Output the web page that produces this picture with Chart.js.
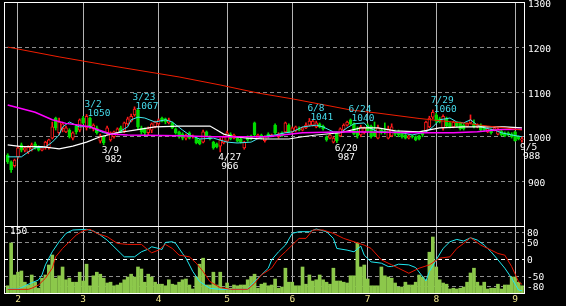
<!DOCTYPE html>
<html>
<head>
<meta charset="utf-8">
<script src="https://cdn.jsdelivr.net/npm/chart.js@4.4.0/dist/chart.umd.min.js"></script>
<style>
  html, body { margin: 0; padding: 0; background: #000; }
  body { width: 566px; height: 306px; position: relative; overflow: hidden; }
  #priceChart { position: absolute; left: 0; top: 0; }
  #oscChart { position: absolute; left: 0; top: 226px; }
</style>
</head>
<body>
<canvas id="priceChart" width="566" height="228"></canvas>
<canvas id="oscChart" width="566" height="80"></canvas>
<script>
// Daily candles, index 0 = first session on the chart
const opens = [959,944,935,955,982,970,966,972,984,977,970,975,975,997,1042,1009,1018,1011,1015,997,
  1024,1015,1042,1020,1042,1018,1020,990,1000,1009,993,1000,1009,1020,1013,1029,1035,1049,1060,1020,
  1018,1009,1015,1022,1029,1042,1040,1031,1031,1018,1011,1006,997,1009,1000,997,993,988,1011,1000,
  988,984,979,986,990,1006,997,997,995,975,1000,1002,1031,997,1004,991,1006,1002,1026,1000,
  1009,1011,1026,1011,1013,1018,1015,1020,1026,1026,1022,1029,1024,1000,997,988,1009,1002,1015,1026,
  1038,1029,1011,1004,1009,1026,1024,1011,997,1015,1013,997,1002,1013,1013,1009,1004,997,1002,1000,
  1002,1011,1011,1022,1044,1049,1040,1020,1040,1031,1022,1031,1031,1026,1024,1031,1029,1022,1026,1020,
  1011,1015,1015,1006,1013,1009,1009,1006,1011,1000,993];
const highs = [962,946,950,978,986,978,980,986,988,980,978,990,995,1033,1044,1042,1033,1024,1018,1011,
  1026,1040,1046,1050,1044,1029,1024,1006,1002,1024,1011,1013,1020,1024,1033,1044,1051,1067,1062,1024,
  1020,1022,1031,1035,1040,1044,1042,1042,1033,1020,1013,1009,1006,1011,1004,1000,995,1015,1013,1002,
  990,986,997,1002,1013,1009,1006,1000,997,990,1002,1004,1033,1006,1006,1002,1009,1006,1029,1009,
  1011,1033,1029,1022,1024,1022,1022,1031,1041,1038,1035,1031,1026,1002,1006,1000,1011,1020,1029,1035,
  1040,1031,1022,1026,1022,1029,1026,1033,1026,1018,1031,1024,1029,1015,1015,1011,1006,1004,1004,1002,
  1004,1013,1035,1046,1060,1053,1044,1049,1044,1033,1035,1033,1033,1029,1031,1049,1038,1029,1029,1022,
  1020,1018,1022,1020,1015,1011,1011,1009,1013,1002,1000];
const lows = [940,920,932,952,966,966,962,968,972,968,968,972,972,995,1015,1004,1011,1009,997,993,
  1006,1011,1029,1015,1018,1013,1006,986,982,1004,990,997,1004,1009,1009,1026,1033,1046,1018,1006,
  1004,1004,1009,1020,1026,1033,1029,1029,1018,1006,997,993,993,995,997,984,982,986,1000,993,
  972,975,966,984,988,993,995,988,986,972,990,993,1000,995,995,988,997,1000,1006,997,
  1000,1009,1009,1009,1011,1013,1013,1018,1024,1024,1020,1020,1015,990,995,986,987,1000,1013,1024,
  1026,1004,997,1000,1006,1011,997,1000,995,1006,1006,995,1000,1002,1000,997,995,995,997,991,
  993,1000,1009,1020,1040,1031,1031,1015,1022,1020,1020,1022,1015,1015,1022,1029,1020,1020,1013,1013,
  1009,1006,1013,1004,1002,1000,1002,997,990,993,988];
const closes = [944,926,948,975,970,975,977,982,975,970,975,988,993,1022,1020,1033,1029,1020,1000,1009,
  1011,1038,1031,1046,1022,1026,1009,1002,986,1020,1009,1011,1018,1011,1031,1040,1046,1062,1022,1011,
  1009,1018,1029,1033,1038,1035,1033,1038,1020,1009,1000,997,1004,997,1002,986,984,1011,1002,995,
  975,977,993,1000,1009,995,1004,990,988,988,993,995,1004,1004,997,1000,1000,1004,1009,1006,
  1002,1031,1011,1020,1022,1015,1020,1026,1035,1035,1031,1022,1018,993,1004,997,991,1018,1026,1033,
  1029,1006,1002,1022,1020,1013,1000,1002,1020,1009,1011,1018,1022,1006,1004,1000,997,1002,1000,993,
  995,1004,1033,1042,1055,1035,1033,1046,1024,1022,1033,1024,1018,1018,1029,1038,1022,1026,1015,1015,
  1018,1009,1020,1018,1004,1002,1004,1000,991,995,995];
const volumes = [18,125,45,52,55,27,20,45,27,12,37,45,70,95,37,43,65,33,37,27,
  27,52,30,72,18,43,52,47,37,25,27,18,20,25,33,40,47,40,65,60,
  27,47,40,27,22,22,18,33,22,20,27,33,35,20,10,40,72,87,20,20,
  52,20,52,12,25,12,20,18,20,20,33,40,47,12,22,25,18,20,35,12,
  15,62,27,27,18,18,65,22,45,30,33,45,33,27,22,62,30,30,27,25,
  43,43,125,65,70,35,18,18,18,65,43,40,37,25,15,15,27,20,20,27,
  45,40,33,102,140,65,33,25,22,10,12,10,12,15,27,50,62,27,18,27,
  10,12,12,22,10,20,20,40,40,27,18];

// Moving averages as [index, price]
const maLong = [[0,1201],[15,1179],[27,1163],[50,1134],[62,1116],[73,1098],[83,1085],[94,1069],[100,1060],
  [108,1053],[120,1041],[126,1036],[134,1030],[140,1024],[145,1020],[150,1015]];
const maMid = [[0,1071],[8,1055],[13,1038],[17,1030],[21,1026],[24,1022],[30,1006],[35,1004],[50,1002],
  [60,1000],[76,1000],[80,1004],[86,1009],[100,1011],[120,1009],[130,1009],[137,1011],[144,1016],[150,1017]];
const maSlow = [[0,982],[4,978],[10,978],[15,973],[19,979],[23,988],[27,1000],[32,1009],[37,1015],[43,1022],
  [50,1024],[59,1024],[61,1015],[63,1006],[66,1000],[70,997],[75,995],[82,995],[86,1000],[90,1004],[97,1009],
  [103,1020],[108,1020],[113,1013],[120,1011],[126,1020],[133,1022],[145,1022],[150,1020]];
const maFast = [[0,955],[4,955],[6,966],[8,975],[11,977],[13,988],[15,1004],[16,1022],[18,1033],[21,1022],
  [24,1024],[26,1015],[28,1009],[30,1006],[32,1009],[33,1013],[35,1022],[36,1038],[38,1044],[40,1042],
  [43,1033],[46,1038],[48,1033],[51,1015],[53,1004],[56,995],[60,997],[64,988],[67,986],[71,988],[74,1000],
  [78,1004],[81,1009],[83,1011],[86,1022],[90,1026],[92,1022],[95,1011],[97,1009],[99,1020],[101,1029],
  [104,1031],[105,1022],[108,1011],[115,1009],[118,1004],[122,1011],[124,1022],[126,1038],[129,1042],
  [131,1033],[133,1031],[135,1038],[137,1026],[139,1020],[142,1015],[144,1009],[147,1004],[150,1000]];

// Oscillator lines as [index, value]
const oscFast = [[0,-88],[3,-88],[4,-84],[6,-74],[9,-61],[10,-46],[11,-16],[13,23],[15,53],[17,78],[19,88],
  [23,90],[25,85],[27,73],[29,58],[31,38],[33,18],[34,8],[37,8],[39,23],[41,31],[42,38],[44,33],[45,30],
  [46,51],[48,53],[49,48],[51,18],[52,4],[54,-36],[56,-66],[59,-86],[62,-89],[70,-89],[71,-76],[74,-46],
  [76,-26],[77,-1],[79,23],[81,43],[83,78],[85,83],[88,83],[90,91],[93,83],[95,63],[96,33],[99,28],
  [101,23],[103,40],[104,13],[106,-7],[109,-11],[111,-21],[112,-21],[114,-14],[117,-16],[119,-24],
  [122,-64],[123,-36],[125,-1],[127,33],[129,53],[131,60],[133,55],[135,65],[137,58],[139,43],[141,23],
  [143,-1],[145,-26],[147,-56],[149,-91],[150,-93]];
const oscSlow = [[0,-89],[6,-89],[7,-86],[9,-76],[11,-56],[13,-26],[14,8],[16,33],[18,53],[20,73],[22,86],
  [24,90],[26,78],[29,68],[32,48],[35,45],[39,45],[41,28],[42,20],[44,28],[46,45],[48,33],[50,13],[53,8],
  [55,-11],[57,-36],[59,-66],[62,-84],[65,-89],[70,-89],[72,-71],[74,-46],[77,-26],[79,4],[81,23],[83,43],
  [85,63],[87,63],[89,88],[92,88],[95,78],[98,63],[101,53],[104,43],[106,33],[109,-1],[112,-16],[114,-26],
  [117,-41],[120,-26],[123,-16],[126,4],[129,8],[131,33],[133,48],[135,65],[138,43],[141,28],[143,18],
  [145,13],[147,-21],[149,-66],[150,-74]];

// Axis ticks
const monthStarts = [3, 22, 44, 64, 83, 105, 125, 148];
const monthLabels = ['2', '3', '4', '5', '6', '7', '8', '9'];
const priceTicks = [900, 1000, 1100, 1200, 1300];
const oscTicks = [80, 50, 0, -50, -80];
const volumeLabel = 150;

// High / low callouts
const marks = [
  { i: 23, label: '3/2', at: 'high' },
  { i: 28, label: '3/9', at: 'low' },
  { i: 37, label: '3/23', at: 'high' },
  { i: 62, label: '4/27', at: 'low' },
  { i: 88, label: '6/8', at: 'high' },
  { i: 96, label: '6/20', at: 'low' },
  { i: 100, label: '6/24', at: 'high' },
  { i: 124, label: '7/29', at: 'high' },
  { i: 150, label: '9/5', at: 'low' }
];

// Style
const FONT = '9.5px "DejaVu Sans Mono", monospace';
const UP = '#ff1a1a';
const DOWN = '#00dc00';
const X_MIN = -1.08;
const X_MAX = 150.6;
const VOL_MAX = 167.5;

Chart.defaults.font.family = '"DejaVu Sans Mono", monospace';
Chart.defaults.font.size = 9.5;

const pts = arr => arr.map(p => ({ x: p[0], y: p[1] }));
const isUp = i => closes[i] >= opens[i];
const idx = closes.map((_, i) => i);

// keep the plot area where the reference has it (no label overhang padding)
const noPad = s => {
  s.paddingTop = 0;
  s.paddingBottom = 0;
  s.paddingLeft = 0;
  s.paddingRight = 0;
};

// White frame round each panel
const framePlugin = {
  id: 'frame',
  afterDraw(chart) {
    const { ctx, chartArea: a } = chart;
    ctx.save();
    ctx.strokeStyle = '#ffffff';
    ctx.lineWidth = 1;
    ctx.strokeRect(Math.floor(a.left) + 0.5, Math.floor(a.top) + 0.5,
      Math.round(a.right - a.left), Math.round(a.bottom - a.top));
    ctx.restore();
  }
};

// Date / price callouts at highs and lows
const markPlugin = {
  id: 'marks',
  afterDraw(chart) {
    const { ctx, scales: { x, y } } = chart;
    ctx.save();
    ctx.font = FONT;
    ctx.textAlign = 'left';
    ctx.textBaseline = 'alphabetic';
    marks.forEach(m => {
      const px = x.getPixelForValue(m.i);
      if (m.at === 'high') {
        const py = y.getPixelForValue(highs[m.i]);
        ctx.fillStyle = '#46dcec';
        ctx.fillText(m.label, px - 2, py - 7);
        ctx.fillText(String(highs[m.i]), px + 1, py + 2);
      } else {
        const py = y.getPixelForValue(lows[m.i]);
        ctx.fillStyle = '#ffffff';
        ctx.fillText(m.label, px - 2, py + 8);
        ctx.fillText(String(lows[m.i]), px + 1, py + 17);
      }
    });
    ctx.restore();
  }
};

// Volume scale label
const volLabelPlugin = {
  id: 'volLabel',
  afterDraw(chart) {
    const { ctx, scales: { vol } } = chart;
    ctx.save();
    ctx.font = FONT;
    ctx.fillStyle = '#ffffff';
    ctx.textAlign = 'left';
    ctx.textBaseline = 'middle';
    ctx.fillText(String(volumeLabel), 10, vol.getPixelForValue(volumeLabel) - 1);
    ctx.restore();
  }
};

const xScale = (showLabels) => ({
  type: 'linear',
  min: X_MIN,
  max: X_MAX,
  bounds: 'data',
  offset: false,
  afterBuildTicks: s => { s.ticks = monthStarts.map(v => ({ value: v })); },
  afterFit: s => { s.height = showLabels ? 13 : 0; noPad(s); },
  ticks: {
    display: showLabels,
    color: '#f0e68c',
    padding: 1,
    autoSkip: false,
    maxRotation: 0,
    callback: (v, i) => monthLabels[i]
  },
  grid: { color: '#b4b4b4', drawTicks: false, offset: false },
  border: { display: false }
});

// Price panel
new Chart(document.getElementById('priceChart'), {
  type: 'bar',
  data: {
    datasets: [
      { type: 'line', data: pts(maLong), borderColor: '#f01e00', borderWidth: 1, pointRadius: 0, order: 0 },
      { type: 'line', data: pts(maMid), borderColor: '#ff00ff', borderWidth: 1.5, pointRadius: 0, order: 0 },
      { type: 'line', data: pts(maSlow), borderColor: '#ffffff', borderWidth: 1.2, pointRadius: 0, order: 0 },
      { type: 'line', data: pts(maFast), borderColor: '#40e8f0', borderWidth: 1, pointRadius: 0, order: 0 },
      {
        data: idx.map(i => ({ x: i, y: [Math.min(opens[i], closes[i]), Math.max(opens[i], closes[i])] })),
        backgroundColor: idx.map(i => isUp(i) ? '#000000' : DOWN),
        borderColor: idx.map(i => isUp(i) ? UP : DOWN),
        borderWidth: 1,
        borderSkipped: false,
        barThickness: 3,
        minBarLength: 1,
        grouped: false,
        order: 1
      },
      {
        data: idx.map(i => ({ x: i, y: [lows[i], highs[i]] })),
        backgroundColor: idx.map(i => isUp(i) ? UP : DOWN),
        borderWidth: 0,
        barThickness: 1,
        grouped: false,
        order: 2
      }
    ]
  },
  options: {
    responsive: false,
    animation: false,
    devicePixelRatio: 1,
    events: [],
    layout: { padding: { left: 4, top: 2, right: 0, bottom: 2 } },
    plugins: { legend: { display: false }, tooltip: { enabled: false } },
    scales: {
      x: xScale(false),
      y: {
        position: 'right',
        min: 800,
        max: 1302,
        bounds: 'data',
        afterBuildTicks: s => { s.ticks = priceTicks.map(v => ({ value: v })); },
        afterFit: s => { s.width = 42; noPad(s); },
        ticks: { color: '#ffffff', padding: 4, labelOffset: 2, font: { size: 9.5 }, callback: v => String(v) },
        grid: {
          color: c => (c.tick && c.tick.value === 1300) ? 'rgba(0,0,0,0)' : '#8c8c8c',
          drawTicks: false
        },
        border: { display: false, dash: [4, 3] }
      }
    }
  },
  plugins: [framePlugin, markPlugin]
});

// Volume and oscillator panel
new Chart(document.getElementById('oscChart'), {
  type: 'bar',
  data: {
    datasets: [
      { type: 'line', data: pts(oscSlow), borderColor: '#e81400', borderWidth: 1, pointRadius: 0, yAxisID: 'y', order: 0 },
      { type: 'line', data: pts(oscFast), borderColor: '#20e8f0', borderWidth: 1, pointRadius: 0, yAxisID: 'y', order: 0 },
      {
        data: volumes.map((v, i) => ({ x: i, y: v })),
        backgroundColor: '#8cc84b',
        barThickness: 3,
        grouped: false,
        yAxisID: 'vol',
        order: 1
      }
    ]
  },
  options: {
    responsive: false,
    animation: false,
    devicePixelRatio: 1,
    events: [],
    layout: { padding: { left: 4, top: 0, right: 0, bottom: 0 } },
    plugins: { legend: { display: false }, tooltip: { enabled: false } },
    scales: {
      x: xScale(true),
      y: {
        position: 'right',
        min: -100,
        max: 100,
        bounds: 'data',
        afterBuildTicks: s => { s.ticks = oscTicks.map(v => ({ value: v })); },
        afterFit: s => { s.width = 42; noPad(s); },
        ticks: { color: '#ffffff', padding: 3, labelOffset: 1, font: { size: 9.5 }, callback: v => String(v) },
        grid: {
          color: c => (c.tick && c.tick.value === 0) ? '#ffffff' : '#8c8c8c',
          drawTicks: false
        },
        border: { display: false, dash: [4, 3] }
      },
      vol: { position: 'left', display: false, min: 0, max: VOL_MAX, bounds: 'data' }
    }
  },
  plugins: [framePlugin, volLabelPlugin]
});
</script>
</body>
</html>
